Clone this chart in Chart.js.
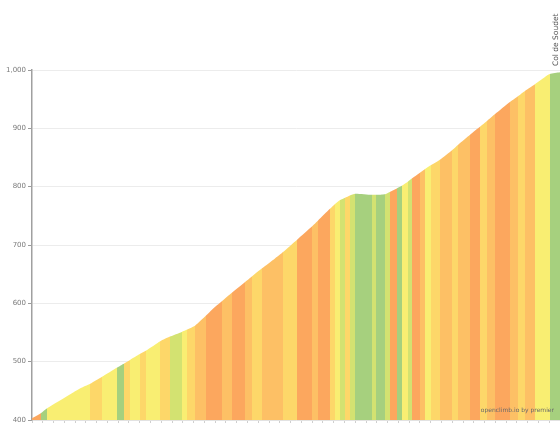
<!DOCTYPE html>
<html>
<head>
<meta charset="utf-8">
<title>Col de Soudet – profil</title>
<script src="https://cdn.jsdelivr.net/npm/chart.js@4/dist/chart.umd.min.js"></script>
<style>
  html, body { margin: 0; padding: 0; background: #fff; overflow: hidden; }
  #wrap { position: relative; width: 560px; height: 423px; }
</style>
</head>
<body>
<div id="wrap"><canvas id="profile"></canvas></div>
<script>
// Distance along the climb (km) at each point of the profile
const distanceKm = [
  0, 0.17, 0.28, 0.71, 0.89, 1.08, 1.30, 1.58, 1.71, 1.82,
  2.00, 2.12, 2.38, 2.56, 2.78, 2.88, 3.03, 3.23, 3.40, 3.53,
  3.71, 3.95, 4.08, 4.27, 4.51, 4.66, 4.92, 5.20, 5.31, 5.53,
  5.62, 5.72, 5.81, 5.90, 6.00, 6.31, 6.39, 6.55, 6.64, 6.77,
  6.87, 6.98, 7.05, 7.20, 7.29, 7.41, 7.57, 7.80, 7.91, 8.13,
  8.32, 8.45, 8.59, 8.87, 9.02, 9.15, 9.34, 9.52, 9.61, 9.80
];

// Elevation (m) at each of those points
const elevationM = [
  403, 412, 420, 444, 454, 462, 474, 490, 497, 503,
  513, 519, 535, 543, 551, 555, 562, 579, 594, 604,
  618, 636, 646, 660, 677, 688, 709, 732, 742, 762,
  770, 777, 781, 785, 788, 786, 786, 787, 791, 797,
  802, 809, 814, 824, 830, 837, 846, 863, 872, 889,
  903, 913, 924, 945, 955, 964, 976, 988, 993, 996
];

// Gradient class of each stretch between two consecutive points (0 = easy … 5 = steep)
const gradeClass = [
  5, 0, 2, 2, 2, 3, 2, 0, 3, 2,
  3, 2, 3, 1, 2, 3, 4, 5, 5, 4,
  5, 4, 3, 4, 4, 3, 5, 4, 5, 3,
  2, 1, 3, 1, 0, 1, 0, 1, 5, 0,
  2, 1, 5, 4, 2, 3, 4, 3, 4, 5,
  3, 4, 5, 4, 3, 4, 2, 2, 0
];

// Y-axis tick values (m)
const elevationTicks = [400, 500, 600, 700, 800, 900, 1000];

const summitName = 'Col de Soudet';
const creditText = 'openclimb.io by premier';

// Colour for each gradient class
const gradePalette = ['#a6d07e', '#d3e271', '#f9ee72', '#fdd769', '#fdc065', '#fca75e'];

const points = distanceKm.map((d, i) => ({ x: d, y: elevationM[i] }));

// One horizontal gradient with hard stops, so neighbouring stretches meet without seams
function stripeFill(context) {
  const chart = context.chart;
  const area = chart.chartArea;
  const xs = chart.scales.x;
  if (!area || !xs) return gradePalette[2];
  const w = area.right - area.left;
  const g = chart.ctx.createLinearGradient(area.left, 0, area.right, 0);
  const pos = v => Math.min(1, Math.max(0, (xs.getPixelForValue(v) - area.left) / w));
  gradeClass.forEach((cls, i) => {
    const col = gradePalette[cls];
    g.addColorStop(pos(distanceKm[i]), col);
    g.addColorStop(pos(distanceKm[i + 1]), col);
  });
  return g;
}

const labelsPlugin = {
  id: 'profileLabels',
  afterDraw(chart) {
    const { ctx, chartArea } = chart;
    const xs = chart.scales.x;
    ctx.save();
    // summit name, written upward above the last point
    const sx = Math.min(xs.getPixelForValue(distanceKm[distanceKm.length - 1]), chartArea.right) - 4;
    ctx.translate(sx, chartArea.top - 4);
    ctx.rotate(-Math.PI / 2);
    ctx.font = '7.5px "DejaVu Sans", sans-serif';
    ctx.fillStyle = '#555';
    ctx.textAlign = 'left';
    ctx.textBaseline = 'middle';
    ctx.fillText(summitName, 0, 0);
    ctx.restore();

    // credit line at the bottom right
    ctx.save();
    ctx.font = '6px "DejaVu Sans", sans-serif';
    ctx.fillStyle = '#6a6a6a';
    ctx.textAlign = 'right';
    ctx.textBaseline = 'middle';
    ctx.fillText(creditText, chartArea.right - 6, chartArea.bottom - 10);
    ctx.restore();
  }
};

new Chart(document.getElementById('profile'), {
  type: 'line',
  data: {
    datasets: [{
      data: points,
      borderWidth: 0,
      borderColor: 'rgba(0,0,0,0)',
      pointRadius: 0,
      tension: 0.2,
      fill: 'start',
      backgroundColor: stripeFill
    }]
  },
  options: {
    responsive: true,
    maintainAspectRatio: false,
    devicePixelRatio: 1,
    animation: false,
    layout: { padding: { top: 70, right: 0, left: 0, bottom: 0 } },
    plugins: {
      legend: { display: false },
      tooltip: { enabled: false },
      title: { display: false }
    },
    scales: {
      x: {
        type: 'linear',
        min: 0,
        max: 9.8,
        ticks: { display: false, stepSize: 0.2, maxTicksLimit: 100 },
        grid: { drawOnChartArea: false, tickLength: 3, tickColor: '#cfcfcf' },
        border: { display: true, color: '#e2e2e2' }
      },
      y: {
        min: 400,
        max: 1000,
        afterFit: s => { s.width = 32; s.paddingTop = 0; s.paddingBottom = 0; },
        afterBuildTicks: s => { s.ticks = elevationTicks.map(v => ({ value: v })); },
        ticks: {
          padding: 2,
          color: '#7a7a7a',
          font: { size: 7, family: '"DejaVu Sans", sans-serif' },
          callback: v => v.toLocaleString('en-US')
        },
        grid: { color: '#ececec', tickLength: 4, tickColor: '#9a9a9a' },
        border: { display: true, color: '#a0a0a0', width: 1.5 }
      }
    }
  },
  plugins: [labelsPlugin]
});
</script>
</body>
</html>
